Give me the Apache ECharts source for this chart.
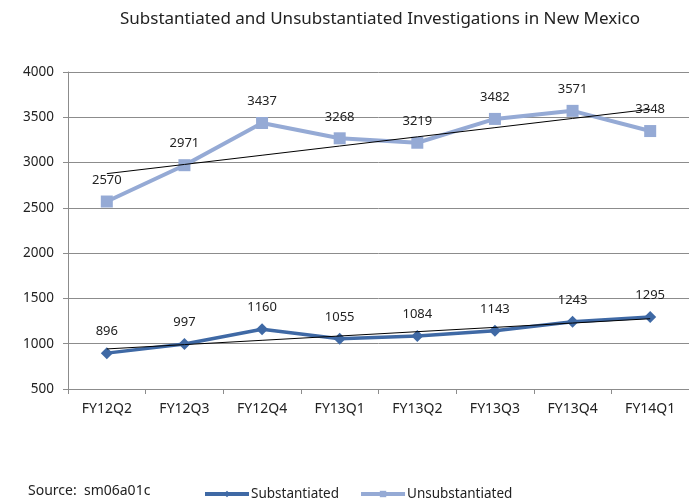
<!DOCTYPE html>
<html>
<head>
<meta charset="utf-8">
<script src="https://cdn.jsdelivr.net/npm/echarts@6/dist/echarts.min.js"></script>
<style>
  html, body { margin: 0; padding: 0; background: #fff; }
  #chart { width: 689px; height: 502px; }
</style>
</head>
<body>
<div id="chart"></div>
<script>
const QUARTERS = ['FY12Q2', 'FY12Q3', 'FY12Q4', 'FY13Q1', 'FY13Q2', 'FY13Q3', 'FY13Q4', 'FY14Q1'];
const SUBSTANTIATED = [896, 997, 1160, 1055, 1084, 1143, 1243, 1295];
const UNSUBSTANTIATED = [2570, 2971, 3437, 3268, 3219, 3482, 3571, 3348];

const FONT = '"Noto Sans", sans-serif';
const SUB_COLOR = '#3F69A5';
const UNSUB_COLOR = '#95AAD5';

// least-squares trend line, same as excel's linear trendline
function trend(values) {
    const n = values.length;
    const mx = (n - 1) / 2;
    const my = values.reduce((a, b) => a + b, 0) / n;
    let sxy = 0, sxx = 0;
    values.forEach((v, i) => { sxy += (i - mx) * (v - my); sxx += (i - mx) ** 2; });
    const slope = sxy / sxx;
    return values.map((_, i) => my + slope * (i - mx));
}

const chart = echarts.init(document.getElementById('chart'));

const labelStyle = {
    show: true,
    position: 'top',
    distance: 9,
    color: '#222',
    fontFamily: FONT,
    fontSize: 13
};

chart.setOption({
    animation: false,
    title: {
        text: 'Substantiated and Unsubstantiated Investigations in New Mexico',
        left: 375,
        textAlign: 'center',
        top: 6,
        textStyle: { fontFamily: FONT, fontSize: 17, fontWeight: 'normal', color: '#222' }
    },
    graphic: [{
        type: 'text',
        left: 28,
        top: 484,
        style: { text: 'Source:  sm06a01c', font: '14px ' + FONT, fill: '#222' }
    }],
    legend: {
        data: [
            { name: 'Substantiated', lineStyle: { width: 4 } },
            { name: 'Unsubstantiated', lineStyle: { width: 4 } }
        ],
        left: 203,
        bottom: 1,
        padding: 0,
        itemWidth: 44,
        itemHeight: 8,
        itemGap: 20,
        textStyle: { fontFamily: FONT, fontSize: 13.5, color: '#222', padding: [0, 0, 0, -3] }
    },
    grid: { left: 68, top: 72, width: 626, height: 317 },
    xAxis: {
        type: 'category',
        data: QUARTERS,
        boundaryGap: true,
        axisLine: { lineStyle: { color: '#8c8c8c' } },
        axisTick: { show: true, length: 5, lineStyle: { color: '#8c8c8c' } },
        axisLabel: { fontFamily: FONT, fontSize: 14, color: '#222', margin: 13 }
    },
    yAxis: {
        type: 'value',
        min: 500,
        max: 4000,
        interval: 500,
        axisLine: { show: true, lineStyle: { color: '#8c8c8c' } },
        axisTick: { show: true, inside: false, length: 5, lineStyle: { color: '#8c8c8c' } },
        splitLine: { lineStyle: { color: '#8c8c8c' } },
        axisLabel: {
            fontFamily: FONT, fontSize: 13.5, color: '#222', margin: 14,
            formatter: v => String(v)
        }
    },
    series: [
        {
            name: 'Substantiated',
            type: 'line',
            data: SUBSTANTIATED,
            symbol: 'diamond',
            symbolSize: 12,
            lineStyle: { color: SUB_COLOR, width: 3.5 },
            itemStyle: { color: SUB_COLOR },
            label: labelStyle,
            z: 3
        },
        {
            name: 'Unsubstantiated',
            type: 'line',
            data: UNSUBSTANTIATED,
            symbol: 'rect',
            symbolSize: 12,
            lineStyle: { color: UNSUB_COLOR, width: 4 },
            itemStyle: { color: UNSUB_COLOR },
            label: labelStyle,
            z: 3
        },
        {
            name: 'Substantiated trend',
            type: 'line',
            data: trend(SUBSTANTIATED),
            symbol: 'none',
            silent: true,
            lineStyle: { color: '#000', width: 1 },
            z: 4
        },
        {
            name: 'Unsubstantiated trend',
            type: 'line',
            data: trend(UNSUBSTANTIATED),
            symbol: 'none',
            silent: true,
            lineStyle: { color: '#000', width: 1 },
            z: 4
        }
    ]
});

window.addEventListener('resize', () => chart.resize());
</script>
</body>
</html>
